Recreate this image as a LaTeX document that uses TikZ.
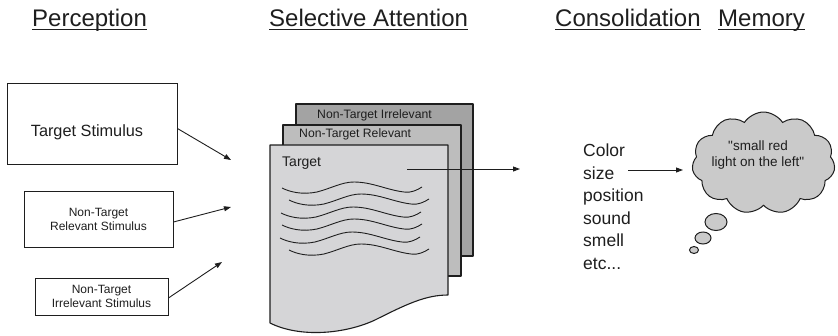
\documentclass[tikz,border=0pt]{standalone}
\usepackage{fontspec}
\setmainfont{Liberation Sans}
\newfontfamily\plainquotes{Liberation Sans}[Ligatures=TeXOff]
\usetikzlibrary{arrows.meta,shapes.symbols}
\definecolor{ink}{HTML}{1E1E1E}
\definecolor{sheetback}{HTML}{A3A3A3}
\definecolor{sheetmid}{HTML}{BDBDBD}
\definecolor{sheetfront}{HTML}{D5D5D7}
\definecolor{cloudgray}{HTML}{CACACA}
\begin{document}
\begin{tikzpicture}[x=1pt,y=-1pt,
  hdr/.style={anchor=base west,inner sep=0,text=ink,font=\fontsize{24}{28}\selectfont},
  stimbox/.style={draw=ink,line width=0.9pt,inner sep=0,align=center,text=ink},
  small/.style={font=\fontsize{12}{14}\selectfont},
  arr/.style={draw=ink,line width=0.9pt,-{Triangle[length=7pt,width=5pt]}},
  sheet/.style={draw=ink,line width=1.1pt,line join=round},
  sheettext/.style={anchor=west,inner sep=0,text=ink,font=\fontsize{12.2}{14}\selectfont},
  lst/.style={anchor=base west,inner sep=0,text=ink,font=\fontsize{17.5}{21}\selectfont},
  bubble/.style={draw=ink,line width=1pt,fill=cloudgray},
  wave/.pic={\draw[ink,line width=0.9pt] (0,0) .. controls (8,4) and (20,7) .. (35,4) .. controls (50,0) and (60,-6) .. (72,-6) .. controls (90,-6) and (105,2) .. (122,4) .. controls (130,5) and (135,2) .. (140,-1);}
]
\useasboundingbox (0,0) rectangle (838,335);

% headers
\node[hdr] (h1) at (32,26) {Perception};
\node[hdr] (h2) at (269,26) {Selective Attention};
\node[hdr] (h3) at (555,26) {Consolidation};
\node[hdr] (h4) at (718,26) {Memory};
\foreach \h in {h1,h2,h3,h4}
  \draw[ink,line width=1.3pt] ([yshift=-3.5pt]\h.base west) -- ([yshift=-3.5pt]\h.base east);

% stimulus boxes
\node[stimbox,minimum width=170pt,minimum height=81pt] (b1) at (92,123.5) {};
\node[anchor=base,inner sep=0,text=ink,font=\fontsize{16.3}{19}\selectfont] (b1t) at (87,136) {Target Stimulus};
\node[stimbox,small,minimum width=149pt,minimum height=56pt] (b2) at (98.5,219) {Non-Target\\Relevant Stimulus};
\node[stimbox,small,minimum width=133pt,minimum height=37pt] (b3) at (101.5,296.5) {Non-Target\\Irrelevant Stimulus};

\coordinate (t1) at (231,160);
\coordinate (t2) at (231,207);
\coordinate (t3) at (222,262);
\draw[arr] ([yshift=-5pt]b1.east) -- (t1);
\draw[arr] ([yshift=-3pt]b2.east) -- (t2);
\draw[arr] ([yshift=-1.5pt]b3.east) -- (t3);

% stacked sheets
\draw[sheet,fill=sheetback] (296,104) rectangle (473,256);
\draw[sheet,fill=sheetmid] (283,125) rectangle (461,276);
\draw[sheet,fill=sheetfront] (270,145) -- (448,145) -- (448,295)
  .. controls (425,295) and (405,305) .. (375,320)
  .. controls (345,334) and (300,338) .. (270,323) -- cycle;
\node[sheettext] (sirr) at (317,115) {Non-Target Irrelevant};
\node[sheettext] (srel) at (299,134) {Non-Target Relevant};
\node[sheettext,font=\fontsize{14}{16}\selectfont] (stgt) at (282,163) {Target};

\pic at (282,188) {wave};
\pic at (289,200) {wave};
\pic at (281,213) {wave};
\pic at (282,225) {wave};
\pic at (280,238) {wave};
\pic at (289,250) {wave};

\coordinate (sa) at (407,169);
\coordinate (sb) at (520,169);
\draw[arr] (sa) -- (sb);

% attributes list
\node[lst] (l1) at (583,156.5) {Color};
\node[lst] (l2) at (583,179.1) {size};
\node[lst] (l3) at (583,201.7) {position};
\node[lst] (l4) at (583,224.3) {sound};
\node[lst] (l5) at (583,246.9) {smell};
\node[lst] (l6) at (583,269.5) {etc...};
\coordinate (ca) at (628,170);
\coordinate (cb) at (683,170);
\draw[arr] (ca) -- (cb);

% memory cloud
\node[cloud,cloud puffs=11,cloud puff arc=115,cloud ignores aspect,draw=ink,line width=1pt,fill=cloudgray,
  minimum width=143pt,minimum height=102pt,inner sep=0] (mem) at (763.5,163) {};
\node[align=center,inner sep=0,text=ink,font=\plainquotes\fontsize{13.5}{16}\selectfont] (memtext) at (758,155) {"small red\\light on the left"};
\draw[bubble] (716,222) ellipse [x radius=11,y radius=8.5];
\draw[bubble] (703,238) ellipse [x radius=8,y radius=6];
\draw[bubble] (694,250) ellipse [x radius=4.5,y radius=3.5];
\end{tikzpicture}
\end{document}
